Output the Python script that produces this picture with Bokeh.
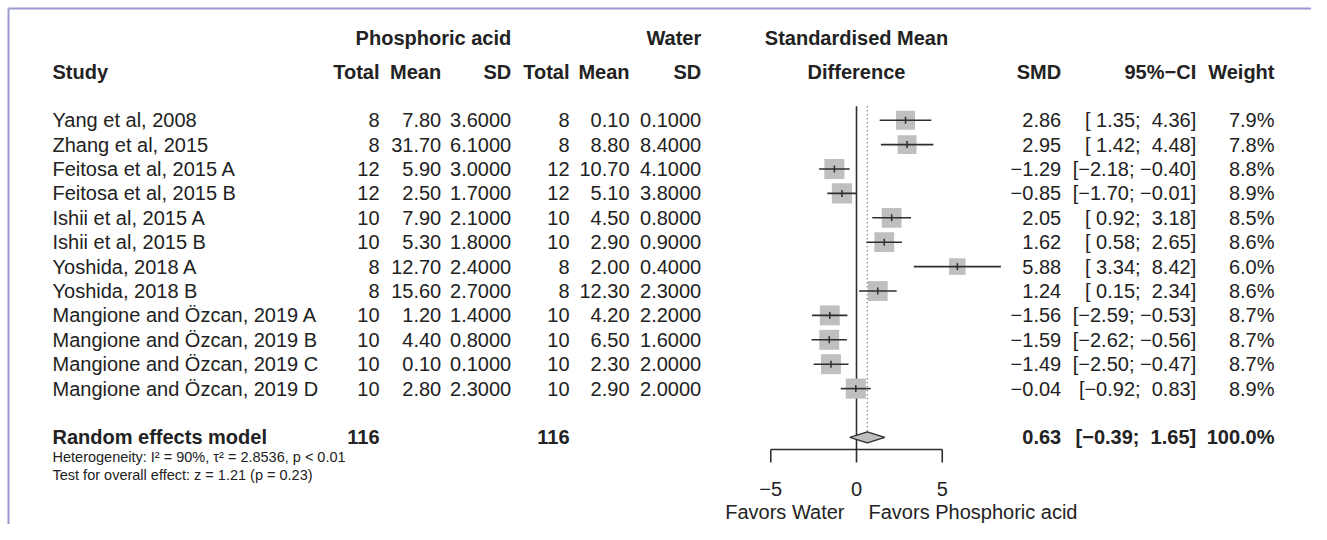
import math
from bokeh.plotting import figure
from bokeh.models import Range1d
from bokeh.core.properties import value
from bokeh.embed import file_html
from bokeh.resources import INLINE

# ---------------- data ----------------
studies = ["Yang et al, 2008", "Zhang et al, 2015", "Feitosa et al, 2015 A",
           "Feitosa et al, 2015 B", "Ishii et al, 2015 A", "Ishii et al, 2015 B",
           "Yoshida, 2018 A", "Yoshida, 2018 B", "Mangione and Özcan, 2019 A",
           "Mangione and Özcan, 2019 B", "Mangione and Özcan, 2019 C",
           "Mangione and Özcan, 2019 D"]
pa_total = [8, 8, 12, 12, 10, 10, 8, 8, 10, 10, 10, 10]
pa_mean = [7.80, 31.70, 5.90, 2.50, 7.90, 5.30, 12.70, 15.60, 1.20, 4.40, 0.10, 2.80]
pa_sd = [3.6, 6.1, 3.0, 1.7, 2.1, 1.8, 2.4, 2.7, 1.4, 0.8, 0.1, 2.3]
w_total = [8, 8, 12, 12, 10, 10, 8, 8, 10, 10, 10, 10]
w_mean = [0.10, 8.80, 10.70, 5.10, 4.50, 2.90, 2.00, 12.30, 4.20, 6.50, 2.30, 2.90]
w_sd = [0.1, 8.4, 4.1, 3.8, 0.8, 0.9, 0.4, 2.3, 2.2, 1.6, 2.0, 2.0]
smd = [2.86, 2.95, -1.29, -0.85, 2.05, 1.62, 5.88, 1.24, -1.56, -1.59, -1.49, -0.04]
ci_lo = [1.35, 1.42, -2.18, -1.70, 0.92, 0.58, 3.34, 0.15, -2.59, -2.62, -2.50, -0.92]
ci_hi = [4.36, 4.48, -0.40, -0.01, 3.18, 2.65, 8.42, 2.34, -0.53, -0.56, -0.47, 0.83]
weight = [7.9, 7.8, 8.8, 8.9, 8.5, 8.6, 6.0, 8.6, 8.7, 8.7, 8.7, 8.9]
pooled_label = "Random effects model"
pooled_total_pa = 116
pooled_total_w = 116
pooled_smd = 0.63
pooled_lo = -0.39
pooled_hi = 1.65
pooled_weight = 100.0
axis_ticks = [-5, 0, 5]
label_left = "Favors Water"
label_right = "Favors Phosphoric acid"
het_text = "Heterogeneity: I² = 90%, τ² = 2.8536, p < 0.01"
test_text = "Test for overall effect: z = 1.21 (p = 0.23)"

# ---------------- layout ----------------
W, H = 1311, 524
FONT = "Liberation Sans"
TXT = "#222222"
LINE = "#2e2e2e"
SQ = "#bfbfbf"
FS = "20px"
NB = "\u00a0"

X0_PX = 857.0
PX_PER_UNIT = 17.15
ROW0 = 120.7
ROW_H = 24.4
HDR1, HDR2 = 38.5, 72.5
ORG = 1  # figure origin in picture coordinates

p = figure(width=W, height=H, output_backend="svg", toolbar_location=None,
           x_range=Range1d(ORG, ORG + W), y_range=Range1d(ORG + H, ORG),
           x_axis_location=None, y_axis_location=None, min_border=0)
p.grid.visible = False
p.outline_line_color = None
p.extra_x_ranges = {"smd": Range1d((ORG - X0_PX) / PX_PER_UNIT, (ORG + W - X0_PX) / PX_PER_UNIT)}


def txt(xs, ys, texts, align="right", bold=False, size=FS, font=FONT, rng="default"):
    p.text(x=xs, y=ys, text=texts, text_align=align, text_baseline="middle",
           text_font_size=size, text_font=value(font),
           text_font_style="bold" if bold else "normal", text_color=TXT,
           x_range_name=rng)


def m(s):
    return s.replace("-", "\u2212")


n = len(studies)
rows_y = [ROW0 + i * ROW_H for i in range(n)]
pooled_y = ROW0 + (n + 1) * ROW_H

# column right edges (picture px)
C_STUDY = 53
C_PT, C_PM, C_PS = 380, 441.7, 511.7
C_WT, C_WM, C_WS = 570, 630, 701.7
C_SMD, C_CI, C_WGT = 1061.7, 1196.7, 1275

# frame lines
p.line(x=[9, 9], y=[ORG + H, 9], line_color="#9a9ad2", line_width=2)
p.line(x=[9, ORG + W], y=[9, 9], line_color="#9a9ad2", line_width=2)

# headers
txt([C_PS], [HDR1], ["Phosphoric acid"], bold=True)
txt([C_WS], [HDR1], ["Water"], bold=True)
txt([0], [HDR1], ["Standardised Mean"], align="center", bold=True, rng="smd")
txt([0], [HDR2], ["Difference"], align="center", bold=True, rng="smd")
txt([C_STUDY], [HDR2], ["Study"], align="left", bold=True)
txt([C_PT, C_PM, C_PS, C_WT, C_WM, C_WS, C_SMD, C_CI, C_WGT], [HDR2] * 9,
    ["Total", "Mean", "SD", "Total", "Mean", "SD", "SMD", "95%\u2212CI", "Weight"], bold=True)

# study rows
lo_s = [m(f"{v:.2f}") for v in ci_lo]
hi_s = [m(f"{v:.2f}") for v in ci_hi]
wl = max(len(s) for s in lo_s + [m(f"{pooled_lo:.2f}")])
wh = max(len(s) for s in hi_s + [m(f"{pooled_hi:.2f}")])


def ci_fmt(a, b):
    return "[" + a.rjust(wl, NB) + ";" + NB + b.rjust(wh, NB) + "]"


ci_s = [ci_fmt(a, b) for a, b in zip(lo_s, hi_s)]

txt([C_STUDY] * n, rows_y, studies, align="left")
txt([C_PT] * n, rows_y, [str(v) for v in pa_total])
txt([C_PM] * n, rows_y, [f"{v:.2f}" for v in pa_mean])
txt([C_PS] * n, rows_y, [f"{v:.4f}" for v in pa_sd])
txt([C_WT] * n, rows_y, [str(v) for v in w_total])
txt([C_WM] * n, rows_y, [f"{v:.2f}" for v in w_mean])
txt([C_WS] * n, rows_y, [f"{v:.4f}" for v in w_sd])
txt([C_SMD] * n, rows_y, [m(f"{v:.2f}") for v in smd])
txt([C_CI] * n, rows_y, ci_s)
txt([C_WGT] * n, rows_y, [f"{v:.1f}%" for v in weight])

# pooled row
txt([C_STUDY], [pooled_y], [pooled_label], align="left", bold=True)
txt([C_PT, C_WT], [pooled_y] * 2, [str(pooled_total_pa), str(pooled_total_w)], bold=True)
txt([C_SMD], [pooled_y], [m(f"{pooled_smd:.2f}")], bold=True)
txt([C_CI], [pooled_y], [ci_fmt(m(f"{pooled_lo:.2f}"), m(f"{pooled_hi:.2f}"))], bold=True)
txt([C_WGT], [pooled_y], [f"{pooled_weight:.1f}%"], bold=True)

# heterogeneity text
txt([C_STUDY], [pooled_y + 20], [het_text], align="left", size="14.5px")
txt([C_STUDY], [pooled_y + 38], [test_text], align="left", size="14.5px")

# forest plot
TOP = ROW0 - 14
AXIS_Y = 450
TICK_LEN = 13
p.segment(x0=[0], y0=[TOP], x1=[0], y1=[AXIS_Y], x_range_name="smd",
          line_color=LINE, line_width=1.6)
DIA_H = 5.5
p.segment(x0=[pooled_smd], y0=[TOP], x1=[pooled_smd], y1=[pooled_y - DIA_H], x_range_name="smd",
          line_color="#555555", line_width=1.3, line_dash="1 3")

sizes = [6.76 * math.sqrt(w) for w in weight]
p.scatter(x=smd, y=rows_y, size=sizes, marker="square", fill_color=SQ, line_color=None,
          x_range_name="smd")
p.segment(x0=ci_lo, y0=rows_y, x1=ci_hi, y1=rows_y, x_range_name="smd",
          line_color=LINE, line_width=1.6)
p.scatter(x=smd, y=rows_y, size=7, marker="dash", angle=math.pi / 2, line_color=LINE,
          line_width=1.5, x_range_name="smd")

p.patch(x=[pooled_lo, pooled_smd, pooled_hi, pooled_smd],
        y=[pooled_y, pooled_y - DIA_H, pooled_y, pooled_y + DIA_H],
        fill_color=SQ, line_color=LINE, line_width=1.3, x_range_name="smd")

# axis
p.segment(x0=[axis_ticks[0]], y0=[AXIS_Y], x1=[axis_ticks[-1]], y1=[AXIS_Y], x_range_name="smd",
          line_color=LINE, line_width=1.6)
p.segment(x0=axis_ticks, y0=[AXIS_Y] * len(axis_ticks), x1=axis_ticks,
          y1=[AXIS_Y + TICK_LEN] * len(axis_ticks), x_range_name="smd",
          line_color=LINE, line_width=1.6)
txt(axis_ticks, [489] * len(axis_ticks), [m(str(t)) for t in axis_ticks], align="center", rng="smd")
txt([-0.7], [512], [label_left], align="right", rng="smd")
txt([0.7], [512], [label_right], align="left", rng="smd")

open("out.html", "w").write(file_html(p, INLINE))
